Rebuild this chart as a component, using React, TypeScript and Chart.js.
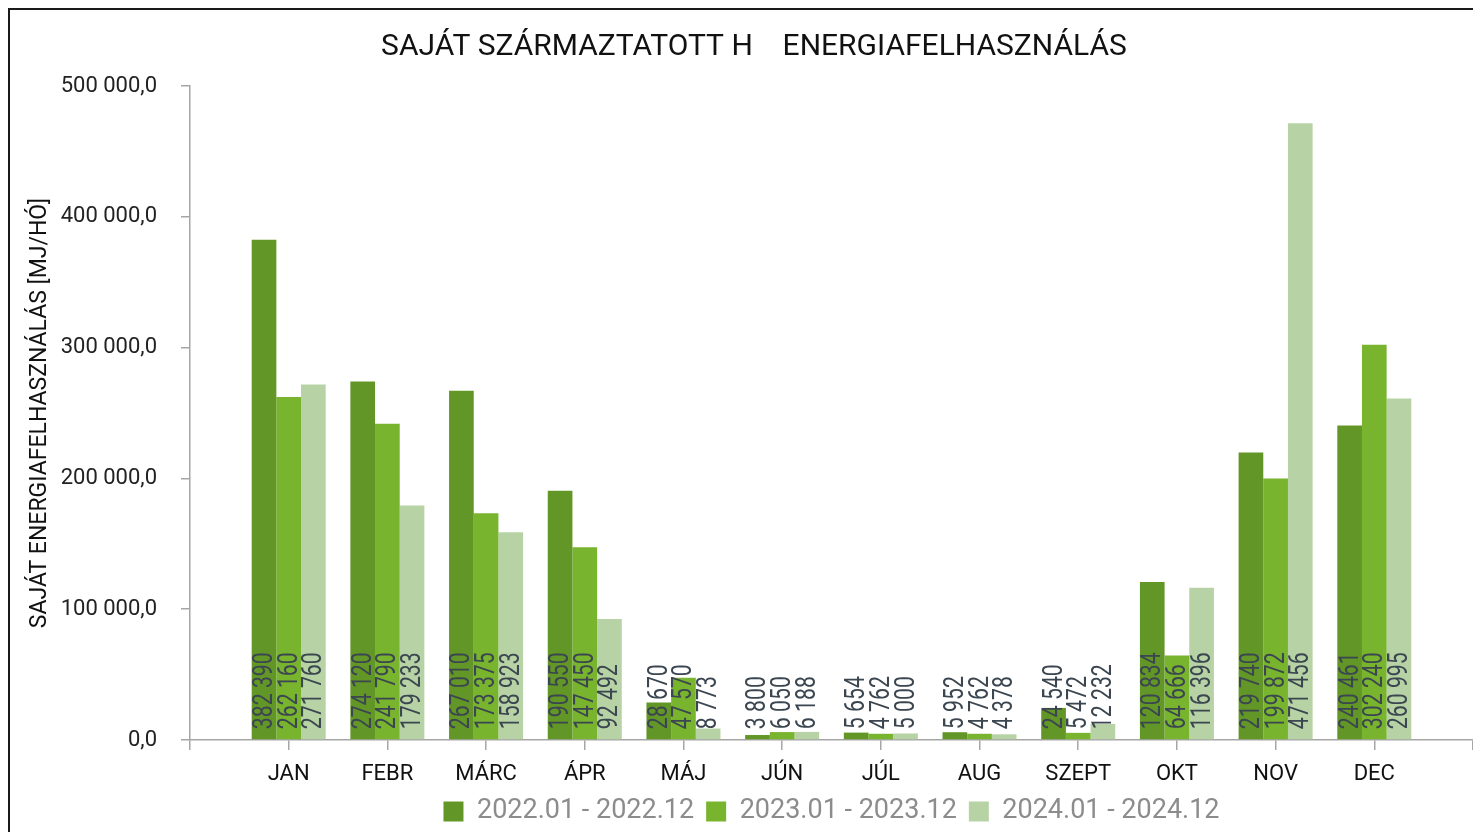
import React, { useEffect, useRef } from "react";
import { Chart, registerables } from "chart.js";

Chart.register(...registerables);

const TITLE = "SAJÁT SZÁRMAZTATOTT H    ENERGIAFELHASZNÁLÁS";
const Y_TITLE = "SAJÁT ENERGIAFELHASZNÁLÁS [MJ/HÓ]";
const MONTHS = ["JAN", "FEBR", "MÁRC", "ÁPR", "MÁJ", "JÚN", "JÚL", "AUG", "SZEPT", "OKT", "NOV", "DEC"];
const SERIES_NAMES = ["2022.01 - 2022.12", "2023.01 - 2023.12", "2024.01 - 2024.12"];
const VALUES_2022 = [382390, 274120, 267010, 190550, 28670, 3800, 5654, 5952, 24540, 120834, 219740, 240461];
const VALUES_2023 = [262160, 241790, 173375, 147450, 47570, 6050, 4762, 4762, 5472, 64666, 199872, 302240];
const VALUES_2024 = [271760, 179233, 158923, 92492, 8773, 6188, 5000, 4378, 12232, 116396, 471456, 260995];
const COLORS = ["#629626", "#78b42e", "#b7d3a5"];
const Y_MIN = 0;
const Y_MAX = 500000;
const Y_STEP = 100000;

const groupDigits = (n: number) =>
  Math.round(n).toString().replace(/\B(?=(\d{3})+(?!\d))/g, " ");

// empty slot before JAN and after DEC, as in the reference axis
const pad = (arr: (number | null)[]) => [null, ...arr, null];

const titlePlugin = {
  id: "customTitle",
  afterDraw(chart: any) {
    const ctx = chart.ctx;
    ctx.save();
    ctx.font = "30px Roboto";
    ctx.fillStyle = "#111111";
    ctx.textAlign = "center";
    ctx.textBaseline = "middle";
    ctx.fillText(TITLE, 744, 37);
    ctx.restore();
  },
};

const valueLabelPlugin = {
  id: "valueLabels",
  afterDatasetsDraw(chart: any) {
    const ctx = chart.ctx;
    chart.data.datasets.forEach((ds: any, di: number) => {
      const meta = chart.getDatasetMeta(di);
      meta.data.forEach((bar: any, i: number) => {
        const v = ds.data[i];
        if (v === null || v === undefined) return;
        const { x, base } = bar.getProps(["x", "base"], true);
        ctx.save();
        ctx.translate(x + 1, base - 10);
        ctx.rotate(-Math.PI / 2);
        ctx.scale(0.76, 1);
        ctx.font = "28px Roboto";
        ctx.fillStyle = "#3b4650";
        ctx.textAlign = "left";
        ctx.textBaseline = "middle";
        ctx.fillText(groupDigits(v), 0, 0);
        ctx.restore();
      });
    });
  },
};

export default function App() {
  const ref = useRef<HTMLCanvasElement | null>(null);

  useEffect(() => {
    if (!ref.current) return;
    const chart = new Chart(ref.current, {
      type: "bar",
      data: {
        labels: ["", ...MONTHS, ""],
        datasets: [
          { label: SERIES_NAMES[0], data: pad(VALUES_2022), backgroundColor: COLORS[0] },
          { label: SERIES_NAMES[1], data: pad(VALUES_2023), backgroundColor: COLORS[1] },
          { label: SERIES_NAMES[2], data: pad(VALUES_2024), backgroundColor: COLORS[2] },
        ],
      },
      options: {
        responsive: false,
        animation: false,
        layout: { padding: { top: 76, left: 0, right: 0, bottom: 0 } },
        datasets: { bar: { categoryPercentage: 0.75, barPercentage: 1 } },
        plugins: {
          title: { display: false },
          tooltip: { enabled: false },
          legend: {
            display: true,
            position: "bottom",
            fullSize: false,
            labels: {
              boxWidth: 20,
              boxHeight: 20,
              padding: 12,
              color: "#8c8c8c",
              font: { family: "Roboto", size: 27 },
            },
          },
        },
        scales: {
          x: {
            offset: false,
            grid: { offset: false, drawOnChartArea: false, color: "#a6a6a6", tickLength: 10, lineWidth: 1.5 },
            border: { color: "#a6a6a6", width: 1.5 },
            ticks: {
              color: "#111111",
              padding: 0,
              autoSkip: false,
              maxRotation: 0,
              font: { family: "Roboto", size: 22, lineHeight: 2.2 },
            },
            afterFit(scale: any) {
              scale.height = 46;
            },
          },
          y: {
            min: Y_MIN,
            max: Y_MAX,
            grid: { drawOnChartArea: false, color: "#a6a6a6", tickLength: 9, lineWidth: 1.5 },
            border: { color: "#a6a6a6", width: 1.5 },
            ticks: {
              stepSize: Y_STEP,
              color: "#222222",
              padding: 24,
              font: { family: "Roboto", size: 22 },
              callback: (v: any) => groupDigits(Number(v)) + ",0",
            },
            title: {
              display: true,
              text: Y_TITLE,
              color: "#111111",
              font: { family: "Roboto", size: 23 },
              padding: { top: 16, bottom: 0 },
            },
            afterFit(scale: any) {
              scale.width = 180;
            },
          },
        },
      },
      plugins: [titlePlugin, valueLabelPlugin],
    });
    return () => chart.destroy();
  }, []);

  return (
    <div
      style={{
        width: 1463,
        height: 830,
        border: "2px solid #1a1a1a",
        boxShadow: "1px 0 0 #9a9a9a",
        background: "#ffffff",
      }}
    >
      <canvas ref={ref} width={1463} height={825} style={{ display: "block" }} />
    </div>
  );
}
